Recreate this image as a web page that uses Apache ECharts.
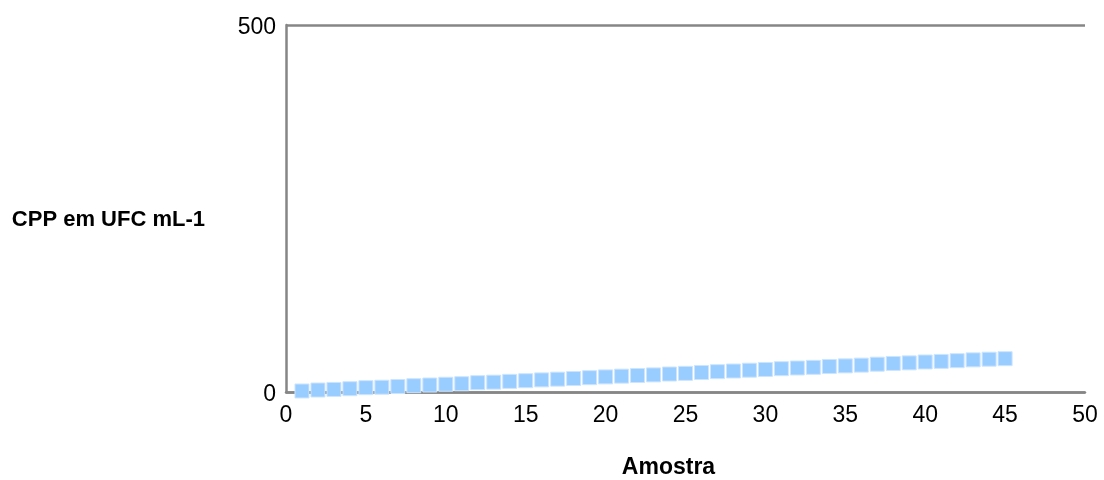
<!DOCTYPE html>
<html>
<head>
<meta charset="utf-8">
<script src="https://cdn.jsdelivr.net/npm/echarts@6/dist/echarts.min.js"></script>
<style>
html,body{margin:0;padding:0;background:#fff;}
#chart{width:1104px;height:480px;}
</style>
</head>
<body>
<div id="chart"></div>
<script>
const amostra = [1,2,3,4,5,6,7,8,9,10,11,12,13,14,15,16,17,18,19,20,21,22,23,24,25,26,27,28,29,30,31,32,33,34,35,36,37,38,39,40,41,42,43,44,45];
const cpp = [1.4,2.7,3.5,4.5,5.9,6.5,7.5,8.6,9.5,10.6,11.3,12.7,13.4,14.5,15.4,16.5,17.5,18.4,19.5,20.6,21.6,22.5,23.3,24.5,25.4,26.6,27.7,28.6,29.7,30.7,31.8,32.7,33.6,34.8,35.6,36.6,37.9,38.9,39.7,40.9,41.7,42.7,43.8,44.7,45.4];
const xAxisTitle = 'Amostra';
const yAxisTitle = 'CPP em UFC mL-1';

const points = amostra.map((x, i) => [x, cpp[i]]);
const font = 'Liberation Sans, Arial, sans-serif';

const chart = echarts.init(document.getElementById('chart'), null, {renderer: 'canvas'});
chart.setOption({
  animation: false,
  backgroundColor: '#ffffff',
  grid: {left: 286, right: 19, top: 25, bottom: 88, containLabel: false, outerBoundsMode: 'none'},
  xAxis: {
    type: 'value', min: 0, max: 50, interval: 5,
    name: xAxisTitle, nameLocation: 'middle', nameGap: 64,
    nameTextStyle: {fontFamily: font, fontSize: 23, fontWeight: 'bold', color: '#000', padding: [0, 34, 0, 0]},
    axisLine: {show: true, lineStyle: {color: '#868686', width: 2.5}},
    axisTick: {show: false},
    axisLabel: {fontFamily: font, fontSize: 23, color: '#000', margin: 12},
    splitLine: {show: false}
  },
  yAxis: {
    type: 'value', min: 0, max: 500, interval: 500,
    name: yAxisTitle, nameLocation: 'middle', nameRotate: 0, nameGap: 81,
    nameTextStyle: {fontFamily: font, fontSize: 22, fontWeight: 'bold', color: '#000', align: 'right', verticalAlign: 'top'},
    axisLine: {show: true, lineStyle: {color: '#868686', width: 2.5}},
    axisTick: {show: false},
    axisLabel: {
      margin: 10,
      formatter: '{v|{value}}',
      rich: {v: {fontFamily: font, fontSize: 23, color: '#000', padding: [6, 0, 0, 0]}}
    },
    splitLine: {show: true, lineStyle: {color: '#868686', width: 2.5}}
  },
  series: [{
    type: 'scatter',
    data: points,
    symbol: 'rect',
    symbolSize: 14,
    itemStyle: {color: '#99CCFF', borderColor: '#CCE5FF', borderWidth: 1, opacity: 1}
  }]
});
</script>
</body>
</html>
